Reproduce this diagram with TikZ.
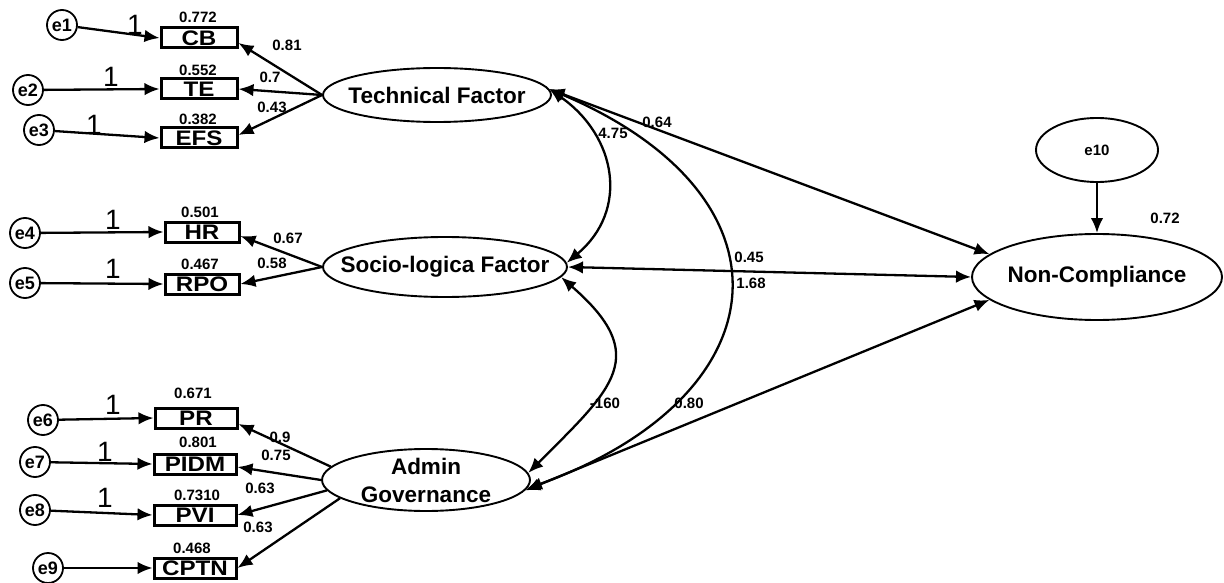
\documentclass[tikz,border=0pt]{standalone}
\usepackage{fontspec}
\setmainfont{Liberation Sans}
\usetikzlibrary{arrows.meta,shapes,positioning}

\newcommand{\boxtxt}[1]{\scalebox{1.15}[1]{#1}}

\tikzset{
  latent/.style={draw,ellipse,line width=1.9pt,inner sep=0pt},
  ltext/.style={font=\fontsize{22.5}{28}\selectfont\bfseries,align=center},
  indic/.style={draw,line width=3pt,inner sep=0pt,minimum height=20pt,font=\fontsize{21}{21}\selectfont\bfseries},
  errc/.style={draw,circle,line width=1.8pt,minimum size=30pt,inner sep=0pt,font=\fontsize{18}{18}\selectfont\bfseries},
  load/.style={line width=2.3pt,-{Latex[length=15pt,width=12.5pt]}},
  corr/.style={line width=2.3pt,{Latex[length=15pt,width=12.5pt]}-{Latex[length=15pt,width=12.5pt]}},
  est/.style={font=\fontsize{15}{15}\selectfont\bfseries,inner sep=0pt},
  fixed/.style={font=\fontsize{28}{28}\selectfont,inner sep=0pt}
}

\begin{document}
\begin{tikzpicture}[x=1pt,y=1pt]
\useasboundingbox (0,0) rectangle (1224,-583);

% latent factors
\node[latent,minimum width=228pt,minimum height=54pt,label={[ltext]center:Technical Factor}] (tf) at (437,-95) {};
\node[latent,minimum width=244pt,minimum height=60pt,label={[ltext]center:Socio-logica Factor}] (sf) at (445,-267) {};
\node[latent,minimum width=208pt,minimum height=62pt,label={[ltext]center:Admin\\Governance}] (ag) at (426,-480) {};
\node[latent,minimum width=250pt,minimum height=86pt,label={[ltext]center:Non-Compliance}] (nc) at (1097,-277) {};
\node[latent,minimum width=122pt,minimum height=64pt,font=\fontsize{15}{15}\selectfont\bfseries] (e10) at (1097,-150) {e10};

% observed indicators
\def\indics{cb/CB/199/38/76, te/TE/199/89/76, efs/EFS/199/138/76, hr/HR/202/232/74, rpo/RPO/202/284/74,
  pr/PR/196/418/82, pidm/PIDM/195/464/82, pvi/PVI/195/515/82, cptn/CPTN/195/568/82}
\foreach \n/\t/\x/\y/\w in \indics
  \node[indic,minimum width=\w pt] (\n) at (\x,-\y) {\boxtxt{\t}};

% error terms
\def\errs{1/62/25, 2/28/90, 3/39/130, 4/25/233, 5/25/283, 6/43/420, 7/35/462, 8/35/510, 9/48/568}
\foreach \i/\x/\y in \errs
  \node[errc] (e\i) at (\x,-\y) {e\i};

\foreach \i/\n in {1/cb,2/te,3/efs,4/hr,5/rpo,6/pr,7/pidm,8/pvi,9/cptn}
  \draw[load] (e\i) -- (\n.west);

% squared multiple correlations
\def\smcs{1/0.772/198/17, 2/0.552/198/70, 3/0.382/198/119, 4/0.501/200/212, 5/0.467/200/264,
  6/0.671/193/393, 7/0.801/198/442, 8/0.7310/197/495, 9/0.468/192/548}
\foreach \i/\v/\x/\y in \smcs
  \node[est] (r\i) at (\x,-\y) {\v};

% fixed paths
\def\ones{1/135/25, 2/111/77, 3/94/125, 4/113/220, 5/113/269, 6/113/405, 7/105/452, 8/105/498}
\foreach \i/\x/\y in \ones
  \node[fixed] (f\i) at (\x,-\y) {1};

% loadings
\draw[load] (tf.west) -- ([yshift=-5pt]cb.east);
\draw[load] (tf.west) -- (te.east);
\draw[load] (tf.west) -- ([yshift=3pt]efs.east);
\draw[load] (sf.west) -- ([yshift=-4pt]hr.east);
\draw[load] (sf.west) -- (rpo.east);
\draw[load] (ag.172) -- ([yshift=-6pt]pr.east);
\draw[load] (ag.180) -- ([yshift=-3pt]pidm.east);
\draw[load] (ag.186) -- (pvi.east);
\draw[load] (ag.192) -- (cptn.east);

\def\lds{1/0.81/287/45, 2/0.7/270/77, 3/0.43/272/107, 4/0.67/288/238, 5/0.58/272/263,
  6/0.9/280/437, 7/0.75/276/455, 8/0.63/260/488, 9/0.63/258/527}
\foreach \i/\v/\x/\y in \lds
  \node[est] (l\i) at (\x,-\y) {\v};

% structural part
\draw[corr] (tf.3) to[out=-35,in=40,looseness=1.2] (sf.2);
\draw[corr] (tf.3) to[out=-23,in=20,looseness=1.75] (ag.-5);
\draw[corr] (sf.-5) to[out=-41,in=45,looseness=1.55] (ag.4);
\draw[corr] (tf.3) -- (nc.168);
\draw[corr] (sf.0) -- (nc.180);
\draw[corr] (ag.-6) -- (nc.192);
\draw[load] (e10) -- (nc);

\node[est] (p1) at (657,-122) {0.64};
\node[est] (p2) at (613,-133) {4.75};
\node[est] (p3) at (749,-257) {0.45};
\node[est] (p4) at (751,-283) {1.68};
\node[est] (p5) at (605,-403) {-160};
\node[est] (p6) at (689,-403) {0.80};
\node[est] (p7) at (1165,-218) {0.72};

\end{tikzpicture}
\end{document}
